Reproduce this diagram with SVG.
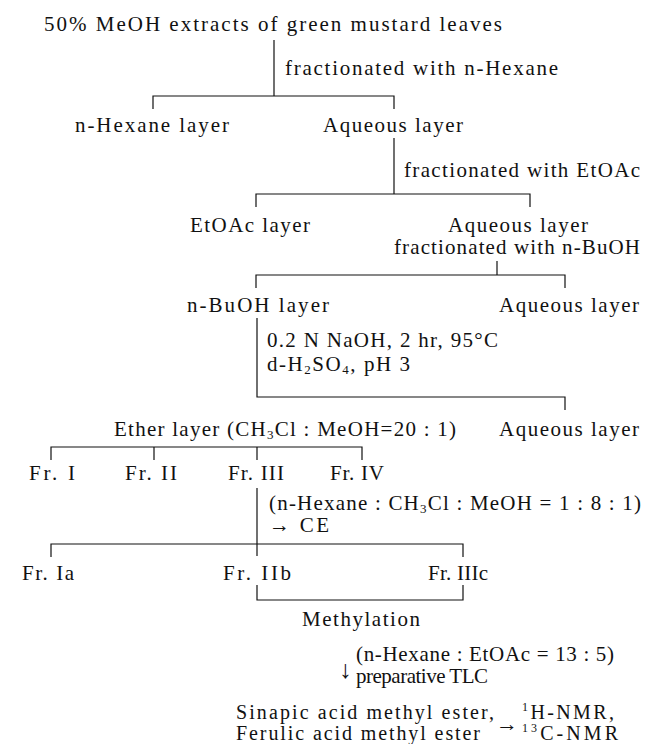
<svg xmlns="http://www.w3.org/2000/svg" width="652" height="744" viewBox="0 0 652 744">
<style>
text{font-family:"Liberation Serif","DejaVu Serif",serif;font-size:21px;fill:#111}
.ln{stroke:#111;stroke-width:1.2;fill:none}
.sub{font-size:13px}
.sup{font-size:12px}
.ar{font-size:25px}
.ar2{font-size:22px}
.sm{font-size:20px}
</style>
<rect width="652" height="744" fill="#fff"/>
<g id="connectors">
<path class="ln" d="M274 40V96"/>
<path class="ln" d="M153 109V96H394V109"/>
<path class="ln" d="M394 138V194"/>
<path class="ln" d="M256 207V194H530V207"/>
<path class="ln" d="M497 261V275"/>
<path class="ln" d="M256 288V275H565V288"/>
<path class="ln" d="M257 318V397H565V410"/>
<path class="ln" d="M51 460V447H362V460M154 447V460M257 447V460"/>
<path class="ln" d="M257 488V556"/>
<path class="ln" d="M51 557V544H463V557"/>
<path class="ln" d="M257 585V600H463V585"/>
</g>
<g id="n-title"><text x="44" y="31" textLength="458" lengthAdjust="spacing">50% MeOH extracts of green mustard leaves</text></g>
<g id="l-hexane"><text x="285" y="75" textLength="273" lengthAdjust="spacing">fractionated with n-Hexane</text></g>
<g id="n-hexane-layer"><text x="75" y="132" textLength="154" lengthAdjust="spacing">n-Hexane layer</text></g>
<g id="n-aq1"><text x="323" y="132" textLength="140" lengthAdjust="spacing">Aqueous layer</text></g>
<g id="l-etoac"><text x="404" y="177" textLength="236" lengthAdjust="spacing">fractionated with EtOAc</text></g>
<g id="n-etoac-layer"><text x="190" y="232" textLength="120" lengthAdjust="spacing">EtOAc layer</text></g>
<g id="n-aq2"><text x="448" y="232" textLength="140" lengthAdjust="spacing">Aqueous layer</text>
<text x="394" y="254" textLength="246" lengthAdjust="spacing">fractionated with n-BuOH</text></g>
<g id="n-buoh-layer"><text x="187" y="312" textLength="142" lengthAdjust="spacing">n-BuOH layer</text></g>
<g id="n-aq3"><text x="499" y="312" textLength="140" lengthAdjust="spacing">Aqueous layer</text></g>
<g id="l-naoh"><text x="267" y="347" textLength="231" lengthAdjust="spacing">0.2 N NaOH, 2 hr, 95°C</text>
<text x="267" y="371" textLength="143" lengthAdjust="spacing">d-H<tspan class="sub" dy="3">2</tspan><tspan dy="-3">SO</tspan><tspan class="sub" dy="3">4</tspan><tspan dy="-3">, pH 3</tspan></text></g>
<g id="n-ether"><text x="114" y="436" textLength="342" lengthAdjust="spacing">Ether layer (CH<tspan class="sub" dy="3">3</tspan><tspan dy="-3">Cl : MeOH=20 : 1)</tspan></text></g>
<g id="n-aq4"><text x="499" y="436" textLength="140" lengthAdjust="spacing">Aqueous layer</text></g>
<g id="n-fr1"><text x="29" y="480" textLength="46" lengthAdjust="spacing">Fr. I</text></g>
<g id="n-fr2"><text x="125" y="480" textLength="52" lengthAdjust="spacing">Fr. II</text></g>
<g id="n-fr3"><text x="228" y="480" textLength="56" lengthAdjust="spacing">Fr. III</text></g>
<g id="n-fr4"><text x="330" y="480" textLength="54" lengthAdjust="spacing">Fr. IV</text></g>
<g id="l-ce"><text x="269" y="510" textLength="372" lengthAdjust="spacing">(n-Hexane : CH<tspan class="sub" dy="3">3</tspan><tspan dy="-3">Cl : MeOH = 1 : 8 : 1)</tspan></text>
<text x="269" y="532" textLength="60" lengthAdjust="spacing">→ CE</text></g>
<g id="n-fr1a"><text x="22" y="580" textLength="52" lengthAdjust="spacing">Fr. Ia</text></g>
<g id="n-fr2b"><text x="223" y="580" textLength="68" lengthAdjust="spacing">Fr. IIb</text></g>
<g id="n-fr3c"><text x="428" y="580" textLength="60" lengthAdjust="spacing">Fr. IIIc</text></g>
<g id="n-methyl"><text x="302" y="626" textLength="118" lengthAdjust="spacing">Methylation</text></g>
<g id="l-tlc"><text class="ar" x="339" y="678">↓</text>
<text x="356" y="661" textLength="258" lengthAdjust="spacing">(n-Hexane : EtOAc = 13 : 5)</text>
<text x="356" y="683" textLength="132" lengthAdjust="spacing">preparative TLC</text></g>
<g id="n-esters"><text class="sm" x="236" y="719" textLength="258" lengthAdjust="spacing">Sinapic acid methyl ester,</text>
<text class="sm" x="236" y="740" textLength="244" lengthAdjust="spacing">Ferulic acid methyl ester</text></g>
<g id="n-nmr"><text class="ar2" x="496" y="731">→</text>
<text class="sm" x="522" y="719" textLength="92" lengthAdjust="spacing"><tspan class="sup" dy="-8">1</tspan><tspan dy="8">H-NMR,</tspan></text>
<text class="sm" x="522" y="740" textLength="96" lengthAdjust="spacing"><tspan class="sup" dy="-8">13</tspan><tspan dy="8">C-NMR</tspan></text></g>
</svg>
